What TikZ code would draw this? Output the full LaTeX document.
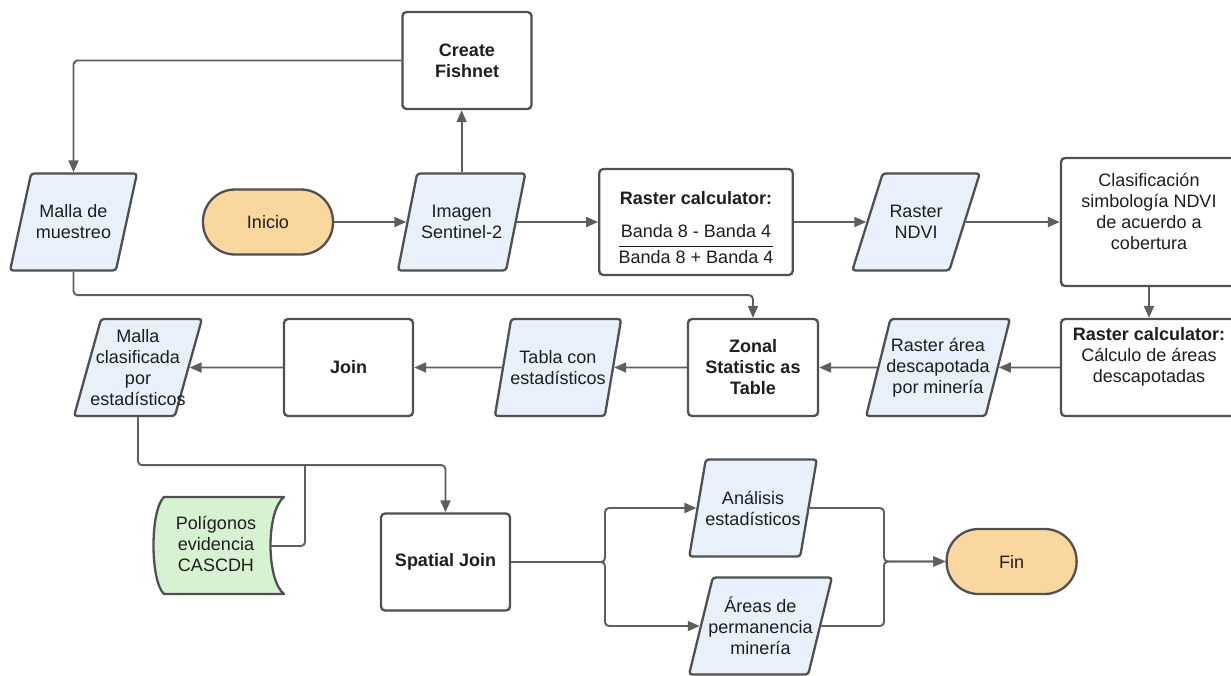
\documentclass[tikz,border=0pt]{standalone}
\usepackage{fontspec}
\setmainfont{Liberation Sans}
\usetikzlibrary{shapes.geometric,arrows.meta,calc}
\definecolor{edgec}{HTML}{5E5E5E}
\definecolor{bord}{HTML}{505050}
\definecolor{iofill}{HTML}{E7F0FB}
\definecolor{termfill}{HTML}{FBD7A0}
\definecolor{datafill}{HTML}{D7F2D0}
\definecolor{txt}{HTML}{1E1E1E}
\pgfdeclarelayer{bg}
\pgfsetlayers{bg,main}
\tikzset{
  base/.style={draw=bord, line width=2.3pt, text=txt, font=\fontsize{18}{21}\selectfont, align=center, inner sep=2pt},
  procbox/.style={base, rectangle, rounded corners=4pt, fill=white, minimum width=129pt, minimum height=97pt},
  iobox/.style={base, trapezium, trapezium left angle=73, trapezium right angle=107, trapezium stretches=true, fill=iofill, rounded corners=3pt, inner xsep=-14pt, minimum height=97pt, minimum width=128pt},
  term/.style={base, rectangle, rounded corners=32pt, fill=termfill, minimum width=130pt, minimum height=65pt},
  conn/.style={draw=edgec, line width=1.9pt, rounded corners=4pt},
  arr/.style={conn, -{Triangle[length=12pt,width=10pt]}},
}
\begin{document}
\begin{tikzpicture}[x=1pt,y=-1pt]
\useasboundingbox (0,0) rectangle (1231,675);
% nodes
\node[procbox] (fish) at (467,60.5) {\textbf{Create}\\\textbf{Fishnet}};
\node[iobox, minimum width=127pt] (malla1) at (73.5,222) {Malla de\\muestreo};
\node[term] (inicio) at (268,222) {Inicio};
\node[iobox] (imagen) at (461.6,222) {Imagen\\Sentinel-2};
\node[procbox, minimum width=193.5pt, minimum height=106pt] (rc1) at (696,222)
  {\rule{0pt}{30pt}\textbf{Raster calculator:}\\[17pt]\setlength{\tabcolsep}{0pt}\setlength{\arrayrulewidth}{1.6pt}\begin{tabular}{c}Banda 8 - Banda 4\\[2.5pt]\hline\rule{0pt}{16pt}Banda 8 + Banda 4\end{tabular}};
\node[iobox] (ndvi) at (916,222) {Raster\\NDVI};
\node[procbox, minimum width=176pt, minimum height=128pt] (clas) at (1149,222)
  {Clasificación\\simbología NDVI\\de acuerdo a\\cobertura\\\mbox{}};
\node[procbox, minimum width=176pt] (rc2) at (1149,367.5)
  {\textbf{Raster calculator:}\\Cálculo de áreas\\descapotadas\\[4pt]\mbox{}};
\node[iobox, minimum width=144pt] (rarea) at (938,367.5) {Raster área\\descapotada\\por minería};
\node[procbox, minimum width=130pt] (zonal) at (753,367.5) {\textbf{Zonal}\\\textbf{Statistic as}\\\textbf{Table}};
\node[iobox, minimum width=127pt] (tabla) at (558,367.5) {Tabla con\\estadísticos};
\node[procbox] (join) at (348.5,367.5) {\textbf{Join}};
\node[iobox] (malla2) at (138,367.5) {Malla\\clasificada\\por\\estadísticos};
\node[base, draw=none, fill=none, rectangle, minimum width=130pt, minimum height=98pt] (polig) at (216,544) {Polígonos\\evidencia\\CASCDH};
\node[procbox] (sjoin) at (445.5,562) {\textbf{Spatial Join}};
\node[iobox] (anal) at (753,508) {Análisis\\estadísticos};
\node[iobox, minimum width=143pt] (areas) at (760.5,626) {Áreas de\\permanencia\\minería};
\node[term] (fin) at (1011.6,561.5) {Fin};
% stored data shape
\coordinate (ptl) at (164,497);
\coordinate (ptr) at (284,497);
\coordinate (pbr) at (284,594);
\coordinate (pbl) at (164,594);
\begin{pgfonlayer}{bg}
\filldraw[draw=bord, fill=datafill, line width=2.3pt, line join=round]
  (ptl) -- (ptr) .. controls (266,511) and (266,580) .. (pbr)
  -- (pbl) .. controls (150,581) and (150,510) .. cycle;
\end{pgfonlayer}
% helper coordinates
\coordinate (pc) at (271,546);
\coordinate (joinpt) at (305,464);
\coordinate (split) at (605,562);
\coordinate (merge) at (884,561.5);
% connectors
\draw[arr] (inicio.east) -- (imagen.west);
\draw[arr] (imagen.north) -- (imagen.north |- fish.south);
\draw[arr] (fish.west) -| (malla1.north);
\draw[arr] (imagen.east) -- (rc1.west);
\draw[arr] (rc1.east) -- (ndvi.west);
\draw[arr] (ndvi.east) -- (clas.west);
\draw[arr] (clas.south) -- (rc2.north);
\draw[arr] (rc2.west) -- (rarea.east);
\draw[arr] (rarea.west) -- (zonal.east);
\draw[arr] (malla1.south) -- ++(0,23.5) -| (zonal.north);
\draw[arr] (zonal.west) -- (tabla.east);
\draw[arr] (tabla.west) -- (join.east);
\draw[arr] (join.west) -- (malla2.east);
\draw[arr] (malla2.south) -- ++(0,48) -| (sjoin.north);
\draw[conn] (pc) -| (joinpt);
\draw[arr] (sjoin.east) -- (split) |- (anal.west);
\draw[arr] (sjoin.east) -- (split) |- (areas.west);
\draw[arr] (anal.east) -| (merge) -- (fin.west);
\draw[arr] (areas.east) -| (merge) -- (fin.west);
\end{tikzpicture}
\end{document}
